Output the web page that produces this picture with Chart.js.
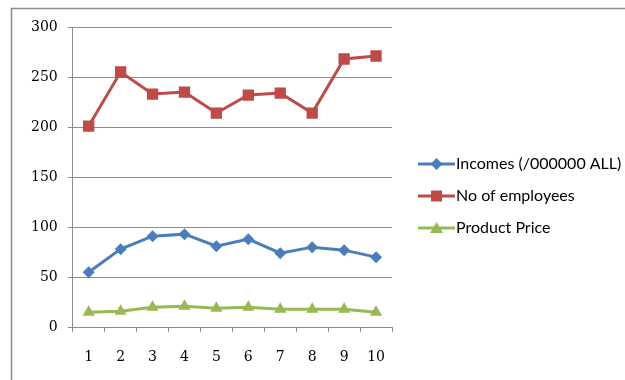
<!DOCTYPE html>
<html>
<head>
<meta charset="utf-8">
<script src="https://cdn.jsdelivr.net/npm/chart.js@4/dist/chart.umd.min.js"></script>
<style>
  html, body { margin: 0; padding: 0; background: #fff; }
  #wrap { width: 625px; height: 380px; }
</style>
</head>
<body>
<div id="wrap"><canvas id="chart" width="625" height="380"></canvas></div>
<script>
const categories = ['1', '2', '3', '4', '5', '6', '7', '8', '9', '10'];
const incomes = [55, 78, 91, 93, 81, 88, 74, 80, 77, 70];
const employees = [201, 255, 233, 235, 214, 232, 234, 214, 268, 271];
const productPrice = [15, 16, 20, 21, 19, 20, 18, 18, 18, 15];

const blue = '#4a7ebb';
const red = '#be4b48';
const green = '#98b954';

// small canvas for the legend: line with the marker in the middle
function legendIcon(color, style) {
  const c = document.createElement('canvas');
  c.width = 60;
  c.height = 14;
  const g = c.getContext('2d');
  g.strokeStyle = color;
  g.lineWidth = 3;
  g.beginPath();
  g.moveTo(20, 7);
  g.lineTo(57, 7);
  g.stroke();
  g.fillStyle = color;
  g.beginPath();
  const cx = 38.5, cy = 7;
  if (style === 'rect') {
    g.rect(cx - 5.5, cy - 5.5, 11, 11);
  } else if (style === 'rectRot') {
    g.moveTo(cx, cy - 6); g.lineTo(cx + 6, cy); g.lineTo(cx, cy + 6); g.lineTo(cx - 6, cy);
  } else {
    g.moveTo(cx, cy - 6); g.lineTo(cx + 6.5, cy + 5); g.lineTo(cx - 6.5, cy + 5);
  }
  g.closePath();
  g.fill();
  return c;
}

const frame = {
  id: 'frame',
  beforeDraw(chart) {
    const ctx = chart.ctx;
    ctx.save();
    ctx.fillStyle = '#fff';
    ctx.fillRect(0, 0, chart.width, chart.height);
    ctx.strokeStyle = '#8c8c8c';
    ctx.lineWidth = 1.5;
    ctx.strokeRect(11.5, 8.5, 800, 600);
    ctx.restore();
  }
};

const tickFont = { family: 'DejaVu Serif', size: 14 };

new Chart(document.getElementById('chart'), {
  type: 'line',
  data: {
    labels: categories,
    datasets: [
      {
        label: 'Incomes (/000000 ALL)',
        data: incomes,
        borderColor: blue,
        backgroundColor: blue,
        borderWidth: 3,
        pointStyle: 'rectRot',
        pointRadius: 6,
        pointBorderWidth: 0,
        tension: 0
      },
      {
        label: 'No of employees',
        data: employees,
        borderColor: red,
        backgroundColor: red,
        borderWidth: 3,
        pointStyle: 'rect',
        pointRadius: 8,
        pointBorderWidth: 0,
        tension: 0
      },
      {
        label: 'Product Price',
        data: productPrice,
        borderColor: green,
        backgroundColor: green,
        borderWidth: 3,
        pointStyle: 'triangle',
        pointRadius: 7,
        pointBorderWidth: 0,
        tension: 0
      }
    ]
  },
  options: {
    responsive: false,
    animation: false,
    layout: { padding: { top: 27, left: 21, right: 0, bottom: -3 } },
    plugins: {
      tooltip: { enabled: false },
      legend: {
        position: 'right',
        align: 'start',
        maxWidth: 233,
        // empty title only pushes the items down to the middle
        title: { display: true, text: ' ', font: { size: 10 }, padding: { top: 101, bottom: 0 } },
        labels: {
          usePointStyle: true,
          pointStyleWidth: 40,
          padding: 16,
          color: '#000',
          font: { family: 'Lato', size: 16 },
          generateLabels(chart) {
            const items = Chart.defaults.plugins.legend.labels.generateLabels(chart);
            const styles = ['rectRot', 'rect', 'triangle'];
            items.forEach((it, i) => {
              it.pointStyle = legendIcon(chart.data.datasets[i].borderColor, styles[i]);
            });
            return items;
          }
        }
      }
    },
    scales: {
      x: {
        offset: true,
        grid: { display: true, drawOnChartArea: false, drawTicks: true, tickLength: 5, offset: true, color: '#8c8c8c' },
        border: { color: '#8c8c8c', width: 1 },
        ticks: { color: '#000', font: tickFont, padding: 17 }
      },
      y: {
        min: 0,
        max: 300,
        ticks: { stepSize: 50, color: '#000', font: tickFont, padding: 10 },
        grid: { color: '#8c8c8c', tickLength: 5 },
        border: { color: '#8c8c8c', width: 1 }
      }
    }
  },
  plugins: [frame]
});
</script>
</body>
</html>
